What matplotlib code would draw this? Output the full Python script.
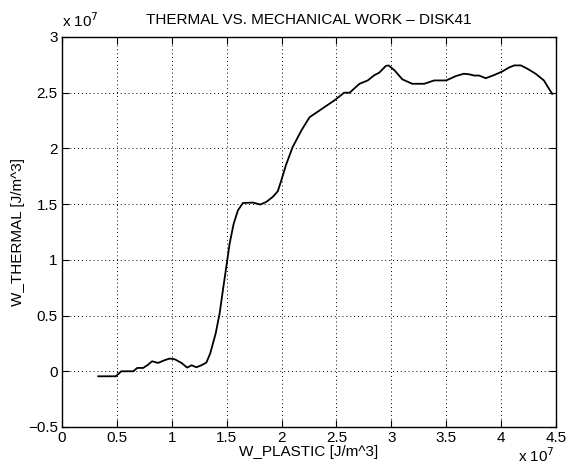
import matplotlib
matplotlib.use("Agg")
import matplotlib.pyplot as plt
import numpy as np

# values in units of 1e7 J/m^3
w_plastic = [0.33, 0.49, 0.54, 0.65, 0.685, 0.74, 0.785, 0.82, 0.875, 0.936, 0.98, 1.027,
             1.088, 1.14, 1.18, 1.224, 1.27, 1.315, 1.35, 1.40, 1.436, 1.466, 1.497, 1.527,
             1.564, 1.603, 1.648, 1.739, 1.806, 1.861, 1.92, 1.966, 2.0, 2.04, 2.10, 2.18,
             2.255, 2.30, 2.36, 2.42, 2.48, 2.57, 2.62, 2.71, 2.785, 2.845, 2.89, 2.95,
             2.975, 3.03, 3.10, 3.19, 3.30, 3.39, 3.50, 3.59, 3.66, 3.71, 3.755, 3.80,
             3.86, 3.94, 4.01, 4.07, 4.12, 4.18, 4.24, 4.315, 4.39, 4.436, 4.466]
w_thermal = [-0.045, -0.045, 0.0, 0.0, 0.03, 0.03, 0.06, 0.09, 0.075, 0.10, 0.114, 0.108,
             0.075, 0.033, 0.054, 0.036, 0.054, 0.078, 0.16, 0.34, 0.52, 0.73, 0.94, 1.146,
             1.325, 1.445, 1.51, 1.514, 1.496, 1.52, 1.565, 1.616, 1.72, 1.85, 2.01, 2.16,
             2.28, 2.31, 2.35, 2.39, 2.43, 2.50, 2.50, 2.58, 2.61, 2.657, 2.68, 2.74,
             2.745, 2.70, 2.62, 2.58, 2.58, 2.61, 2.61, 2.65, 2.67, 2.665, 2.654, 2.654,
             2.63, 2.66, 2.69, 2.725, 2.745, 2.745, 2.715, 2.67, 2.61, 2.536, 2.49]

x_ticks = [0, 0.5, 1, 1.5, 2, 2.5, 3, 3.5, 4, 4.5]
x_tick_labels = ["0", "0.5", "1", "1.5", "2", "2.5", "3", "3.5", "4", "4.5"]
y_ticks = [-0.5, 0, 0.5, 1, 1.5, 2, 2.5, 3]
y_tick_labels = ["\u22120.5", "0", "0.5", "1", "1.5", "2", "2.5", "3"]

plt.rcParams['font.family'] = ['Liberation Sans', 'DejaVu Sans']
fig = plt.figure(figsize=(5.7, 4.7), dpi=100)
ax = fig.add_axes([0.1088, 0.0915, 0.9754 - 0.1088, 0.9213 - 0.0915])
ax.plot(w_plastic, w_thermal, color='black', lw=1.3)
ax.set_xlim(0, 4.5)
ax.set_ylim(-0.5, 3)
ax.set_xticks(x_ticks)
ax.set_xticklabels(x_tick_labels)
ax.set_yticks(y_ticks)
ax.set_yticklabels(y_tick_labels)
ax.tick_params(direction='in', top=True, right=True, labelsize=11, length=5, width=0.8, pad=3)
ax.grid(True, linestyle=(0, (1, 3)), color='black', linewidth=0.7)
for s in ax.spines.values():
    s.set_linewidth(1.0)
ax.set_title("THERMAL VS. MECHANICAL WORK \u2013 DISK41", fontsize=11, pad=9)
ax.set_xlabel("W_PLASTIC [J/m^3]", fontsize=11, labelpad=0)
ax.set_ylabel("W_THERMAL [J/m^3]", fontsize=11, labelpad=2)
fig.text(62 / 570, 1 - 30 / 470, r"x 10$^{7}$", fontsize=11, ha='left', va='bottom')
fig.text(518 / 570, 1 - 465 / 470, r"x 10$^{7}$", fontsize=11, ha='left', va='bottom')
fig.savefig("out.png", dpi=100)
